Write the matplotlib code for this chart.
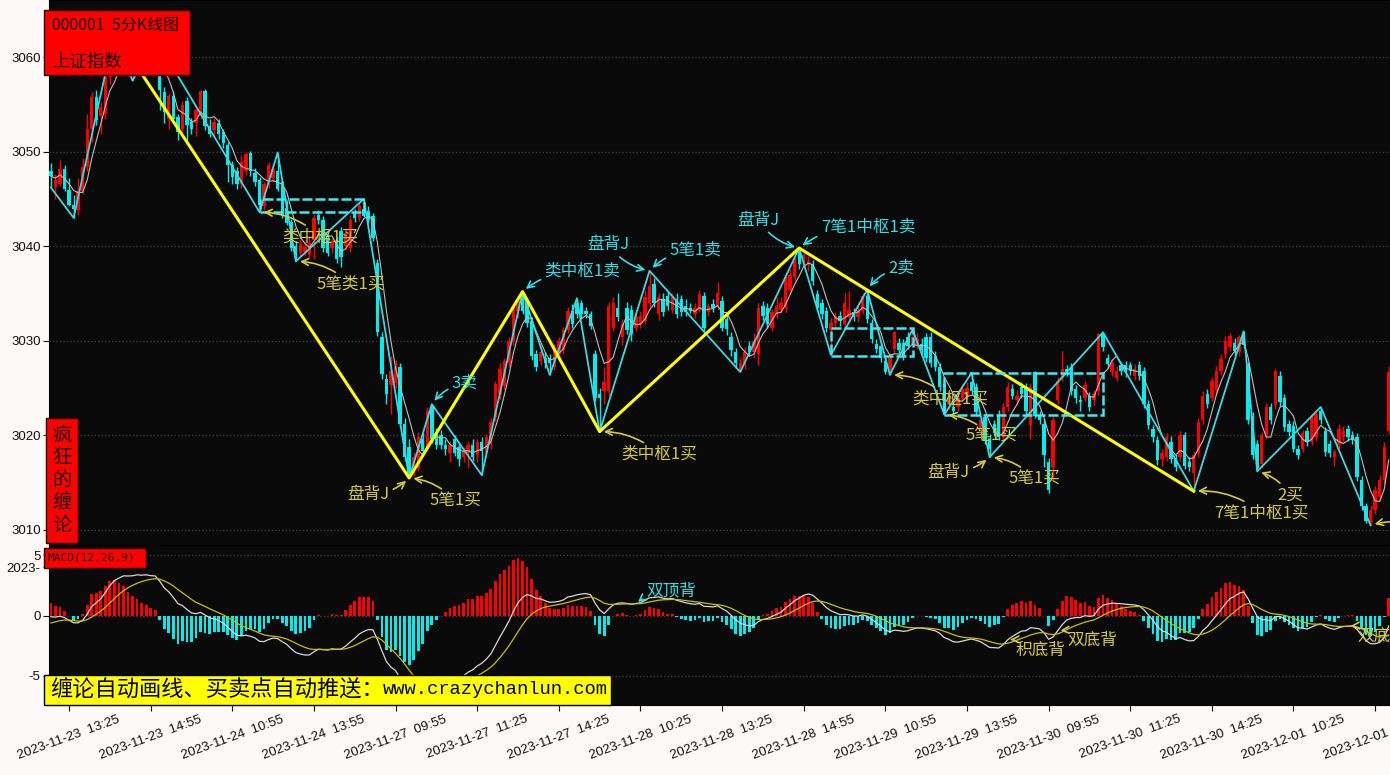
import matplotlib
matplotlib.use('Agg')
import matplotlib.pyplot as plt
from matplotlib.patches import Rectangle
import numpy as np
import pandas as pd

plt.rcParams['font.family'] = ['Noto Sans CJK SC', 'DejaVu Sans']

# 5-minute bars of 000001, first bar 2023-11-23 13:05
opens = [3048.0, 3046.3, 3046.6, 3048.2, 3045.9, 3044.4, 3043.8, 3045.8, 3048.4, 3052.4,
         3055.8, 3053.8, 3054.0, 3057.9, 3060.5, 3060.2, 3059.3, 3060.0, 3058.2, 3059.3,
         3060.6, 3059.9, 3061.1, 3060.4, 3058.6, 3056.3, 3053.5, 3055.9, 3053.7, 3052.4,
         3055.4, 3053.1, 3053.0, 3053.8, 3056.4, 3052.7, 3052.3, 3053.0, 3052.1, 3050.7,
         3048.6, 3048.0, 3046.6, 3048.0, 3049.9, 3047.7, 3047.0, 3044.2, 3046.5, 3047.2,
         3047.9, 3046.8, 3044.0, 3042.6, 3040.0, 3039.3, 3039.4, 3039.1, 3040.7, 3043.3,
         3042.8, 3040.9, 3039.8, 3040.5, 3041.6, 3040.0, 3039.8, 3043.5, 3043.0, 3043.9,
         3043.7, 3043.2, 3038.2, 3030.4, 3026.0, 3025.3, 3025.5, 3027.2, 3021.2, 3018.8,
         3016.0, 3016.6, 3019.6, 3018.8, 3023.1, 3020.2, 3020.0, 3019.0, 3018.1, 3019.6,
         3018.8, 3017.7, 3018.1, 3019.0, 3017.9, 3019.3, 3018.1, 3019.0, 3021.9, 3024.4,
         3025.2, 3027.6, 3030.0, 3033.2, 3034.8, 3034.0, 3032.1, 3028.6, 3027.9, 3028.2,
         3028.2, 3027.2, 3028.6, 3029.0, 3031.1, 3033.2, 3034.0, 3034.0, 3033.2, 3032.8,
         3028.6, 3024.4, 3024.7, 3024.7, 3031.4, 3033.5, 3030.4, 3033.5, 3033.3, 3031.4,
         3031.8, 3032.1, 3034.0, 3036.0, 3032.8, 3034.4, 3034.7, 3033.3, 3034.4, 3034.4,
         3033.7, 3033.5, 3032.8, 3033.3, 3034.7, 3033.0, 3033.9, 3033.7, 3034.2, 3032.3,
         3030.4, 3028.8, 3026.8, 3027.4, 3029.5, 3028.8, 3028.6, 3033.7, 3033.5, 3031.4,
         3032.8, 3033.3, 3033.5, 3035.4, 3036.7, 3039.6, 3038.6, 3038.1, 3038.1, 3034.9,
         3034.0, 3033.2, 3031.1, 3031.9, 3032.6, 3031.8, 3032.5, 3033.0, 3032.5, 3033.2,
         3034.7, 3031.9, 3029.7, 3029.5, 3027.9, 3026.8, 3029.1, 3029.8, 3029.8, 3030.4,
         3029.7, 3029.5, 3029.7, 3030.4, 3030.4, 3028.4, 3027.2, 3025.4, 3023.3, 3023.0,
         3023.0, 3024.0, 3024.2, 3025.6, 3025.1, 3020.5, 3021.9, 3019.6, 3021.2, 3022.3,
         3019.8, 3023.0, 3024.9, 3023.7, 3025.1, 3025.1, 3021.1, 3026.7, 3022.1, 3021.2,
         3017.2, 3016.7, 3023.7, 3026.1, 3027.0, 3027.2, 3024.9, 3023.7, 3024.0, 3024.2,
         3023.7, 3024.7, 3030.7, 3028.2, 3026.7, 3026.1, 3027.4, 3027.4, 3027.4, 3026.3,
         3027.4, 3026.8, 3023.3, 3020.7, 3019.5, 3017.5, 3017.7, 3019.3, 3017.5, 3017.7,
         3020.0, 3017.2, 3016.0, 3018.1, 3021.6, 3024.4, 3024.0, 3024.7, 3026.8, 3028.6,
         3029.3, 3029.8, 3028.8, 3030.5, 3027.4, 3022.1, 3019.1, 3017.0, 3020.0, 3023.0,
         3023.2, 3026.3, 3024.0, 3021.2, 3021.0, 3018.6, 3018.6, 3020.5, 3019.3, 3019.8,
         3022.6, 3020.5, 3019.1, 3017.7, 3019.0, 3019.8, 3020.7, 3020.0, 3019.8, 3015.3,
         3012.5, 3010.7, 3012.1, 3013.5, 3015.3, 3020.5]
highs = [3048.8, 3047.6, 3049.1, 3048.6, 3047.2, 3045.4, 3047.2, 3049.3, 3054.0, 3056.3,
         3056.5, 3055.2, 3059.0, 3061.0, 3062.6, 3061.2, 3060.8, 3060.4, 3059.6, 3061.0,
         3061.3, 3061.5, 3061.8, 3062.0, 3059.4, 3056.8, 3056.2, 3056.4, 3054.0, 3055.4,
         3055.8, 3053.6, 3054.8, 3056.5, 3056.6, 3053.4, 3053.6, 3053.5, 3052.4, 3051.0,
         3049.0, 3048.4, 3049.6, 3050.0, 3050.1, 3048.3, 3047.3, 3046.8, 3048.9, 3048.6,
         3049.9, 3047.0, 3044.9, 3042.9, 3040.6, 3040.8, 3040.4, 3041.0, 3043.4, 3043.8,
         3043.2, 3041.3, 3040.9, 3041.0, 3042.0, 3041.9, 3043.3, 3043.9, 3044.6, 3045.0,
         3044.2, 3043.5, 3038.6, 3030.9, 3026.5, 3028.4, 3028.0, 3027.6, 3021.8, 3019.6,
         3018.2, 3020.4, 3020.2, 3023.0, 3023.3, 3020.8, 3020.6, 3019.6, 3019.4, 3020.0,
         3019.3, 3018.8, 3019.4, 3019.6, 3019.6, 3019.8, 3020.1, 3021.8, 3025.8, 3027.6,
         3028.2, 3030.4, 3033.9, 3034.6, 3035.2, 3034.4, 3032.5, 3029.0, 3029.5, 3028.8,
         3028.6, 3029.7, 3030.4, 3031.5, 3033.6, 3033.9, 3034.5, 3034.3, 3033.6, 3033.2,
         3029.0, 3025.0, 3027.2, 3034.1, 3034.6, 3035.0, 3032.3, 3034.1, 3033.8, 3032.9,
         3033.1, 3035.4, 3037.4, 3036.6, 3035.0, 3035.0, 3035.3, 3035.1, 3035.0, 3034.8,
         3034.4, 3034.0, 3034.0, 3035.4, 3035.2, 3034.0, 3034.4, 3036.2, 3034.7, 3032.8,
         3030.9, 3029.2, 3028.2, 3029.3, 3030.0, 3030.8, 3034.0, 3034.2, 3034.0, 3033.4,
         3034.6, 3034.6, 3037.1, 3037.6, 3038.9, 3039.8, 3039.5, 3039.0, 3038.5, 3035.4,
         3034.4, 3033.6, 3032.4, 3033.0, 3033.1, 3035.1, 3035.3, 3033.5, 3033.8, 3035.0,
         3035.4, 3032.3, 3030.2, 3029.9, 3028.3, 3028.7, 3031.0, 3030.3, 3030.2, 3030.9,
         3031.2, 3030.8, 3030.3, 3030.8, 3030.9, 3028.9, 3027.6, 3025.8, 3024.6, 3023.6,
         3024.5, 3025.4, 3025.6, 3026.6, 3025.5, 3022.0, 3022.3, 3020.1, 3021.6, 3022.7,
         3023.4, 3025.6, 3025.4, 3024.8, 3025.6, 3025.5, 3025.5, 3026.8, 3022.6, 3021.7,
         3017.6, 3022.0, 3026.2, 3028.9, 3027.4, 3027.6, 3025.3, 3024.3, 3025.8, 3024.6,
         3024.8, 3030.8, 3030.9, 3028.6, 3028.1, 3027.3, 3027.8, 3027.9, 3027.8, 3027.5,
         3027.9, 3027.2, 3023.7, 3021.1, 3019.9, 3018.6, 3020.2, 3019.9, 3018.0, 3020.5,
         3020.4, 3017.7, 3018.3, 3021.8, 3024.7, 3024.9, 3026.2, 3027.3, 3028.6, 3030.5,
         3030.8, 3030.3, 3030.6, 3031.0, 3027.8, 3022.5, 3019.5, 3020.4, 3023.4, 3023.4,
         3027.0, 3026.8, 3024.4, 3021.6, 3021.5, 3019.0, 3020.6, 3020.9, 3022.3, 3022.7,
         3023.0, 3020.9, 3019.5, 3018.6, 3021.2, 3021.0, 3021.1, 3020.5, 3020.3, 3015.7,
         3012.9, 3012.6, 3014.7, 3015.8, 3019.3, 3027.3]
lows = [3046.2, 3045.0, 3046.4, 3045.8, 3044.2, 3043.0, 3043.3, 3045.5, 3048.0, 3051.0,
        3052.8, 3051.9, 3053.5, 3057.2, 3059.5, 3058.8, 3058.6, 3058.0, 3057.5, 3058.9,
        3059.4, 3059.5, 3060.0, 3060.0, 3054.4, 3053.0, 3052.4, 3053.0, 3051.2, 3052.0,
        3051.2, 3051.9, 3051.7, 3053.4, 3052.3, 3051.5, 3051.8, 3051.3, 3050.4, 3046.8,
        3046.6, 3046.0, 3046.2, 3047.5, 3047.4, 3046.4, 3043.6, 3043.8, 3046.2, 3046.8,
        3045.8, 3043.0, 3042.2, 3039.5, 3038.4, 3038.9, 3039.0, 3038.8, 3038.6, 3042.3,
        3039.4, 3039.0, 3039.3, 3038.2, 3037.8, 3039.6, 3039.4, 3042.6, 3042.7, 3043.1,
        3042.5, 3040.5, 3030.5, 3026.0, 3023.3, 3022.3, 3025.0, 3020.8, 3017.3, 3015.5,
        3015.7, 3016.2, 3018.0, 3018.5, 3019.2, 3018.6, 3018.6, 3017.9, 3017.2, 3017.8,
        3016.8, 3017.2, 3016.6, 3017.3, 3017.2, 3015.8, 3017.6, 3018.6, 3021.5, 3023.8,
        3024.9, 3027.2, 3029.6, 3032.4, 3032.8, 3031.5, 3028.0, 3026.8, 3027.4, 3027.1,
        3026.4, 3026.9, 3028.2, 3028.6, 3030.8, 3031.4, 3032.4, 3032.3, 3032.4, 3031.2,
        3023.6, 3020.4, 3023.3, 3024.2, 3031.0, 3032.1, 3029.6, 3030.7, 3030.0, 3031.0,
        3031.3, 3031.8, 3033.6, 3033.6, 3032.2, 3032.6, 3033.3, 3032.9, 3032.4, 3032.6,
        3032.6, 3032.9, 3032.4, 3033.0, 3030.9, 3032.6, 3033.0, 3033.3, 3031.0, 3030.6,
        3028.4, 3027.1, 3026.7, 3027.0, 3028.4, 3028.2, 3027.4, 3032.2, 3031.4, 3031.0,
        3032.4, 3032.9, 3033.0, 3035.0, 3036.3, 3037.6, 3038.0, 3037.4, 3035.9, 3033.1,
        3032.3, 3030.9, 3028.5, 3031.4, 3031.6, 3031.4, 3032.0, 3032.1, 3032.0, 3032.8,
        3031.9, 3029.8, 3028.7, 3027.8, 3026.5, 3026.4, 3028.7, 3028.6, 3028.0, 3029.1,
        3029.3, 3029.1, 3028.6, 3027.8, 3027.2, 3026.8, 3024.7, 3022.2, 3022.8, 3022.3,
        3022.6, 3023.6, 3023.8, 3024.3, 3022.1, 3020.0, 3019.1, 3017.7, 3019.9, 3019.5,
        3019.4, 3022.6, 3023.8, 3023.2, 3024.0, 3022.2, 3019.6, 3021.8, 3021.2, 3016.7,
        3013.9, 3015.3, 3023.3, 3025.7, 3026.3, 3024.3, 3023.4, 3022.6, 3023.6, 3022.6,
        3023.2, 3024.3, 3028.9, 3027.1, 3026.3, 3025.7, 3026.4, 3026.2, 3026.4, 3025.9,
        3025.9, 3022.9, 3020.7, 3019.3, 3016.9, 3016.8, 3017.3, 3017.1, 3016.2, 3017.3,
        3016.4, 3016.2, 3014.1, 3017.7, 3021.2, 3022.9, 3023.6, 3024.3, 3026.4, 3028.2,
        3028.9, 3028.5, 3028.4, 3029.2, 3021.2, 3017.5, 3016.2, 3016.6, 3019.6, 3021.2,
        3022.8, 3023.1, 3020.5, 3019.9, 3018.2, 3017.5, 3018.2, 3018.9, 3019.0, 3019.4,
        3021.2, 3017.8, 3017.7, 3016.8, 3018.6, 3019.4, 3019.4, 3019.1, 3015.2, 3012.1,
        3010.7, 3010.5, 3011.7, 3013.1, 3014.9, 3020.1]
closes = [3047.4, 3047.0, 3048.2, 3046.0, 3044.4, 3043.9, 3045.8, 3048.4, 3052.4, 3055.8,
          3053.3, 3054.7, 3057.9, 3060.5, 3060.2, 3059.3, 3060.0, 3058.5, 3059.3, 3060.6,
          3059.9, 3061.1, 3060.4, 3061.2, 3056.5, 3054.2, 3055.9, 3053.5, 3052.1, 3054.9,
          3052.8, 3052.4, 3054.4, 3056.4, 3052.7, 3051.9, 3053.1, 3051.9, 3050.9, 3048.6,
          3047.3, 3046.6, 3048.9, 3049.8, 3047.9, 3046.8, 3044.4, 3046.6, 3048.6, 3048.2,
          3046.1, 3043.2, 3042.5, 3039.8, 3039.1, 3040.2, 3039.9, 3040.3, 3043.0, 3042.8,
          3039.8, 3039.3, 3040.5, 3038.6, 3038.9, 3041.4, 3042.8, 3043.0, 3044.2, 3043.2,
          3042.8, 3040.9, 3030.9, 3026.5, 3024.4, 3026.8, 3027.2, 3021.2, 3017.7, 3016.0,
          3017.7, 3019.8, 3018.4, 3022.6, 3019.6, 3019.0, 3019.0, 3018.6, 3019.0, 3018.1,
          3017.5, 3018.4, 3019.0, 3017.7, 3019.3, 3018.3, 3019.8, 3021.4, 3025.4, 3027.0,
          3027.9, 3030.0, 3033.5, 3034.2, 3033.2, 3031.9, 3028.4, 3027.2, 3028.8, 3027.6,
          3027.7, 3029.3, 3030.0, 3031.1, 3033.2, 3031.8, 3032.8, 3032.8, 3032.8, 3031.6,
          3024.0, 3024.0, 3025.6, 3033.7, 3034.0, 3032.5, 3031.8, 3031.1, 3030.7, 3032.5,
          3032.6, 3034.6, 3035.8, 3034.0, 3034.6, 3033.0, 3033.7, 3034.6, 3032.8, 3033.0,
          3033.0, 3033.2, 3033.5, 3034.9, 3031.4, 3033.7, 3033.5, 3035.1, 3031.4, 3031.2,
          3029.0, 3027.6, 3027.7, 3028.8, 3028.8, 3030.0, 3033.5, 3032.6, 3031.8, 3033.0,
          3033.7, 3034.0, 3036.7, 3037.0, 3038.4, 3038.1, 3039.1, 3038.4, 3036.3, 3033.5,
          3032.8, 3031.4, 3031.9, 3032.6, 3032.1, 3034.0, 3033.3, 3032.5, 3033.3, 3034.7,
          3032.3, 3030.2, 3029.1, 3028.2, 3026.7, 3028.2, 3030.9, 3029.0, 3028.4, 3029.5,
          3030.4, 3030.2, 3029.0, 3028.2, 3027.6, 3027.2, 3025.1, 3022.6, 3024.0, 3022.6,
          3024.0, 3024.9, 3025.0, 3024.7, 3022.5, 3021.6, 3019.5, 3018.6, 3020.2, 3019.8,
          3023.0, 3025.1, 3024.2, 3024.2, 3024.4, 3022.6, 3025.1, 3022.1, 3021.6, 3017.9,
          3014.2, 3021.6, 3025.8, 3027.0, 3026.7, 3024.7, 3024.0, 3023.5, 3025.3, 3023.0,
          3024.4, 3030.7, 3029.3, 3027.5, 3027.7, 3026.8, 3026.8, 3026.7, 3026.8, 3027.0,
          3026.3, 3023.3, 3021.1, 3019.8, 3017.4, 3018.1, 3019.8, 3017.5, 3016.7, 3020.0,
          3016.8, 3016.7, 3017.9, 3021.4, 3024.2, 3023.3, 3025.8, 3026.8, 3028.1, 3030.0,
          3030.5, 3028.9, 3030.4, 3029.6, 3021.6, 3017.9, 3016.6, 3020.0, 3023.0, 3021.6,
          3026.8, 3023.5, 3020.9, 3020.4, 3018.6, 3017.9, 3020.2, 3019.3, 3021.9, 3022.3,
          3021.6, 3018.2, 3018.1, 3018.2, 3020.7, 3020.5, 3019.8, 3019.5, 3015.6, 3012.5,
          3011.0, 3012.1, 3014.2, 3015.3, 3018.8, 3026.7]

# strokes (bi) and segment turning points: bar index, price
bi_idx = [0, 5, 14, 18, 23, 46, 50, 54, 69, 79, 84, 95, 104, 110, 116, 121, 132, 152,
          165, 172, 180, 185, 190, 197, 203, 207, 232, 252, 263, 266, 280, 291]
bi_price = [3046.2, 3043.0, 3062.6, 3057.5, 3062.0, 3043.6, 3049.9, 3038.4, 3045.0,
            3015.5, 3023.3, 3015.8, 3035.2, 3026.4, 3034.5, 3020.4, 3037.4, 3026.7,
            3039.8, 3028.5, 3035.4, 3026.4, 3031.2, 3022.2, 3026.6, 3017.7, 3030.9,
            3014.1, 3031.0, 3016.2, 3023.0, 3010.5]
seg_idx = [14, 79, 104, 121, 165, 252]
seg_price = [3062.6, 3015.5, 3035.2, 3020.4, 3039.8, 3014.1]

# pivot zones (zhongshu)
zone_start = [46, 172, 197]
zone_end = [69, 190, 232]
zone_low = [3043.6, 3028.4, 3022.2]
zone_high = [3045.0, 3031.3, 3026.6]

# MACD state before the first bar
seed_fast, seed_slow, seed_dea = 3047.5, 3047.6, -0.75

tick_labels = ['2023-11-23  13:25', '2023-11-23  14:55', '2023-11-24  10:55',
               '2023-11-24  13:55', '2023-11-27  09:55', '2023-11-27  11:25',
               '2023-11-27  14:25', '2023-11-28  10:25', '2023-11-28  13:25',
               '2023-11-28  14:55', '2023-11-29  10:55', '2023-11-29  13:55',
               '2023-11-30  09:55', '2023-11-30  11:25', '2023-11-30  14:25',
               '2023-12-01  10:25', '2023-12-01  13:25']
tick_idx = list(range(4, 4 + 18 * len(tick_labels), 18))

CYAN_TXT = '#33dde3'
YEL_TXT = '#d4ca3c'

# signal labels: text, pivot bar, offset of text from the pivot (px), colour
signals = [
    ('类中枢1买', 46, 61, -25, YEL_TXT),
    ('5笔类1买', 54, 55, -23, YEL_TXT),
    ('盘背J', 79, -41, -17, YEL_TXT),
    ('5笔1买', 79, 46, -23, YEL_TXT),
    ('3卖', 84, 33, 21, CYAN_TXT),
    ('类中枢1卖', 104, 60, 20, CYAN_TXT),
    ('盘背J', 132, -41, 26, CYAN_TXT),
    ('5笔1卖', 132, 46, 21, CYAN_TXT),
    ('类中枢1买', 121, 60, -23, YEL_TXT),
    ('盘背J', 165, -41, 28, CYAN_TXT),
    ('7笔1中枢1卖', 165, 69, 21, CYAN_TXT),
    ('2卖', 180, 34, 22, CYAN_TXT),
    ('类中枢1买', 185, 60, -24, YEL_TXT),
    ('5笔1买', 197, 47, -22, YEL_TXT),
    ('盘背J', 207, -41, -15, YEL_TXT),
    ('5笔1买', 207, 45, -22, YEL_TXT),
    ('2买', 266, 33, -24, YEL_TXT),
    ('7笔1中枢1买', 252, 68, -22, YEL_TXT),
    ('5笔1买', 291, 62, -6, YEL_TXT),
]
# MACD divergence labels: text, bar, line, offset (px), colour
macd_signals = [
    ('双顶背', 129, 'dea', 35, 13, CYAN_TXT),
    ('积底背', 211, 'dif', 33, -10, YEL_TXT),
    ('双底背', 222, 'dif', 35, -9, YEL_TXT),
    ('双底背', 286, 'dif', 34, -10, YEL_TXT),
]


def ema(values, n, start):
    a = 2.0 / (n + 1)
    out, prev = [], start
    for v in values:
        prev = prev + a * (v - prev)
        out.append(prev)
    return np.array(out)


W, H = 1390, 775
fig = plt.figure(figsize=(W / 100, H / 100), dpi=100, facecolor='#fcf9f7')


def px_axes(x0, y0, x1, y1):
    return fig.add_axes([x0 / W, 1 - y1 / H, (x1 - x0) / W, (y1 - y0) / H])


def px_box(x0, y0, x1, y1, fc, ec='#300000'):
    fig.add_artist(Rectangle((x0 / W, 1 - y1 / H), (x1 - x0) / W, (y1 - y0) / H,
                             transform=fig.transFigure, facecolor=fc, edgecolor=ec,
                             lw=1, zorder=20))


def px_text(x, y, s, **kw):
    fig.text(x / W, 1 - y / H, s, zorder=21, **kw)


ax = px_axes(49, 0, 1390, 545)
axm = px_axes(49, 545, 1390, 705)

x = np.arange(len(closes))
o, h, l, c = (np.array(v) for v in (opens, highs, lows, closes))
col = np.where(c >= o, '#ff0000', '#00eeee')

for a in (ax, axm):
    a.set_facecolor('#0a0a0a')
    a.set_xlim(-0.42, 295.28)
    for s in a.spines.values():
        s.set_color('black')

# main panel
ax.set_ylim(3008.41, 3066.03)
for yv in range(3010, 3061, 10):
    ax.axhline(yv, color='#3a3a3a', lw=1, ls=(0, (1, 1.5)), zorder=1)
ax.vlines(x, l, h, colors=col, lw=1, zorder=2)
ax.bar(x, np.maximum(np.abs(c - o), 0.08), bottom=np.minimum(o, c), width=0.74,
       color=col, lw=0, zorder=3)
ma = pd.Series(closes).rolling(5, min_periods=1).mean()
ax.plot(x, ma, color='#bdbdbd', lw=0.8, zorder=4)
ax.plot(bi_idx, bi_price, color='#40d8e0', lw=1.3, zorder=5)
ax.plot(seg_idx, seg_price, color='#ffff00', lw=2.2, zorder=6)
for s, e, lo, hi in zip(zone_start, zone_end, zone_low, zone_high):
    ax.add_patch(Rectangle((s, lo), e - s, hi - lo, fill=False, edgecolor='#40e8f0',
                           lw=1.8, ls=(0, (4, 1.2)), zorder=6))

ax.set_yticks(range(3010, 3061, 10))
ax.tick_params(axis='y', labelsize=9.5, colors='#111', length=4, pad=2)
ax.tick_params(axis='x', length=0, labelbottom=False)
for t in ax.get_yticklabels():
    t.set_family('Liberation Sans')

pivot = dict(zip(bi_idx, bi_price))
for text, k, dx, dy, color in signals:
    ax.annotate(text, xy=(k, pivot[k]), xytext=(dx, dy), textcoords='offset pixels',
                color=color, fontsize=12, ha='center', va='center', zorder=10,
                annotation_clip=False,
                arrowprops=dict(arrowstyle='->', color=color, lw=1.2,
                                connectionstyle='arc3,rad=0.2', shrinkA=1, shrinkB=3))

# MACD panel
fast = ema(closes, 12, seed_fast)
slow = ema(closes, 26, seed_slow)
dif = fast - slow
dea = ema(dif, 9, seed_dea)
hist = 2 * (dif - dea)
axm.set_ylim(-7.4, 5.83)
for yv in (5, 0, -5):
    axm.axhline(yv, color='#3a3a3a', lw=1, ls=(0, (1, 1.5)), zorder=1)
axm.bar(x, hist, width=0.6, color=np.where(hist >= 0, '#ff0000', '#00eeee'), zorder=2)
axm.plot(x, dif, color='#d8d8d8', lw=0.9, zorder=3)
axm.plot(x, dea, color='#c8c000', lw=0.9, zorder=3)
lines = {'dif': dif, 'dea': dea}
for text, k, which, dx, dy, color in macd_signals:
    axm.annotate(text, xy=(k, lines[which][k]), xytext=(dx, dy), textcoords='offset pixels',
                 color=color, fontsize=12, ha='center', va='center', zorder=10,
                 arrowprops=dict(arrowstyle='->', color=color, lw=1.2,
                                 connectionstyle='arc3,rad=0.2', shrinkA=1, shrinkB=2))

axm.set_yticks([5, 4, 0, -5])
axm.set_yticklabels(['5', '2023-', '0', '-5'])
axm.set_xticks(tick_idx)
axm.set_xticklabels(tick_labels, rotation=20, ha='center')
axm.tick_params(axis='both', labelsize=9.5, colors='#111', length=4, pad=2)
for t in axm.get_yticklabels() + axm.get_xticklabels():
    t.set_family('Liberation Sans')

# overlay labels
px_box(44, 10, 190, 75, '#ff0000')
px_text(52, 25, '000001  5分K线图', fontsize=11.5, color='#111', va='center')
px_text(52, 62, '上证指数', fontsize=12.5, color='#111', va='center')

px_box(46, 418, 78, 543, '#ff0000')
px_text(62, 480, '\n'.join('疯狂的缠论'), fontsize=14, color='#111', ha='center',
        va='center', linespacing=1.1)

px_box(44, 548, 146, 568, '#ff0000')
px_text(48, 558, 'MACD(12,26,9)', fontsize=8, color='#111', va='center',
        family='DejaVu Sans Mono')

px_box(44, 675, 611, 705, '#ffff00', ec='#000000')
px_text(50, 690, '缠论自动画线、买卖点自动推送：', fontsize=16, color='#000', va='center')
px_text(383, 690, 'www.crazychanlun.com', fontsize=13.5, color='#000', va='center',
        family='Liberation Mono')

fig.savefig('out.png', dpi=100, facecolor=fig.get_facecolor())
